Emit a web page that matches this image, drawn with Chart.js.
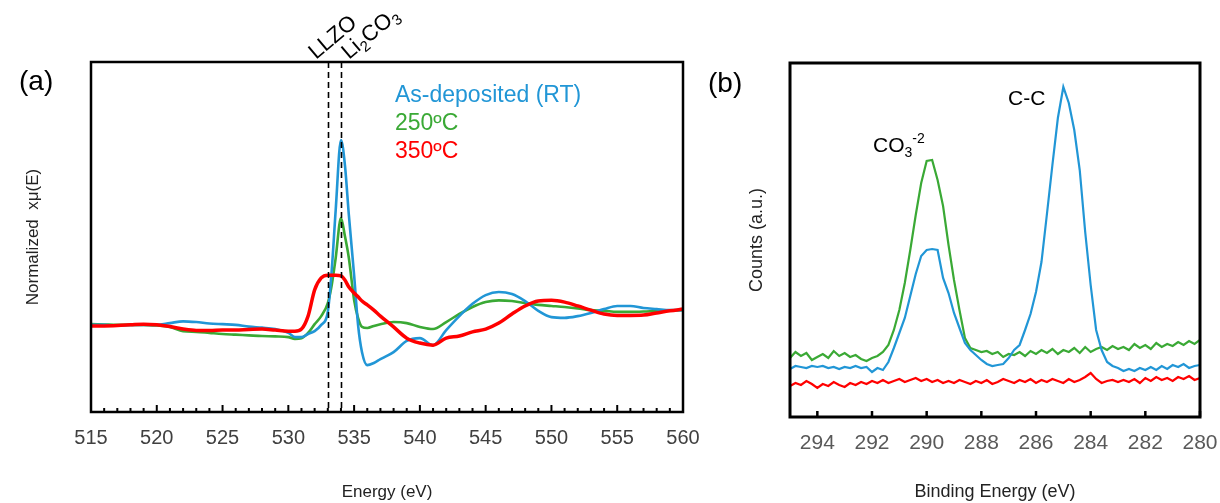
<!DOCTYPE html>
<html><head><meta charset="utf-8">
<script src="https://cdn.jsdelivr.net/npm/chart.js@4.4.1/dist/chart.umd.min.js"></script>
<style>
html,body{margin:0;padding:0;background:#fff;width:1220px;height:503px;overflow:hidden;}
canvas{position:absolute;top:0;}
#ca{left:0;}
#cb{left:700px;}
</style></head><body>
<canvas id="ca" width="700" height="503"></canvas>
<canvas id="cb" width="520" height="503"></canvas>
<script>
// ---------- Panel (a): XANES O K-edge ----------
const xasEnergy = [515,516,517,518,519,520,521,522,523,524,525,526,527,528,529,530,
  530.5,531,531.5,532,532.5,533,
  533.3,533.6,534,534.3,534.6,535,
  535.3,535.6,536,536.5,537,
  538,539,540,541,542,543,544,545,546,547,548,549,550,551,552,553,554,555,556,557,558,559,560];
const xasRT = [24.9,24.9,24.7,24.9,24.9,24.9,25.4,25.9,25.7,25.3,25.1,24.9,24.4,24.1,23.7,22.6,
  21.4,21.4,22.3,23.1,24.9,28.6,
  40.6,57.7,77.7,70.6,56.3,39.1,
  24.9,17.1,13.4,14.0,15.1,
  17.1,20.3,21.1,19.1,23.4,27.4,30.9,33.4,34.3,33.7,31.7,28.9,27.1,26.9,27.4,28.3,29.4,30.3,30.3,29.7,29.4,29.1,29.1];
const xas250 = [25.1,25.0,24.9,24.9,24.9,24.7,24.3,23.1,22.9,22.6,22.3,22.1,21.9,21.7,21.6,21.4,
  20.9,21.1,22.6,25.1,27.4,31.1,
  36.3,44.0,55.4,50.3,44.0,32.0,
  26.9,24.3,24.0,24.6,25.1,
  25.7,25.4,24.3,23.7,25.7,28.0,30.0,31.4,31.9,31.7,31.1,30.6,30.3,30.0,29.6,29.1,28.9,28.6,28.6,28.7,28.9,29.0,29.1];
const xas350 = [24.6,24.6,24.7,24.9,25.1,24.9,24.4,23.7,23.3,23.3,23.4,23.4,23.6,23.7,23.4,23.1,
  23.1,23.7,27.4,34.9,38.3,39.1,
  39.1,39.1,38.9,37.7,35.7,34.0,
  32.9,31.7,30.6,29.1,27.4,
  24.3,21.1,19.7,19.1,21.1,21.7,22.9,23.7,25.4,28.0,30.3,31.7,31.9,31.4,30.3,29.1,28.0,27.6,27.6,27.7,28.3,28.9,29.4];
const xasTicks = [515,520,525,530,535,540,545,550,555,560];
const refEnergies = [533, 534];
const xasLegend = ['As-deposited (RT)', '250\u00baC', '350\u00baC'];

// ---------- Panel (b): XPS C 1s ----------
const xpsEnergy = [295.0,294.8,294.6,294.4,294.2,294.0,293.8,293.6,293.4,293.2,
  293.0,292.8,292.6,292.4,292.2,292.0,291.8,291.6,291.4,291.2,
  291.0,290.8,290.6,290.4,290.2,290.0,289.8,289.6,289.4,289.2,
  289.0,288.8,288.6,288.4,288.2,288.0,287.8,287.6,287.4,287.2,
  287.0,286.8,286.6,286.4,286.2,286.0,285.8,285.6,285.4,285.2,
  285.0,284.8,284.6,284.4,284.2,284.0,283.8,283.6,283.4,283.2,
  283.0,282.8,282.6,282.4,282.2,282.0,281.8,281.6,281.4,281.2,
  281.0,280.8,280.6,280.4,280.2,280.0];
const xpsRT = [48,51,50,49,51,50,51,49,50,48,
  50,49,51,49,50,45,49,47,55,69,
  84,99,121,143,161,167,168,167,139,124,
  104,89,74,67,62,57,53,51,52,53,
  59,67,72,87,103,125,155,203,252,299,
  330,314,287,247,185,132,87,67,55,51,
  49,46,48,46,49,47,50,47,51,48,
  52,50,53,49,51,52];
const xps250 = [59,65,61,64,57,60,63,59,66,61,
  64,60,62,58,56,59,61,65,72,87,
  107,134,167,202,234,256,257,237,211,172,
  137,107,79,69,67,65,66,63,65,60,
  63,62,65,61,66,63,67,64,68,63,
  67,65,69,64,70,65,68,70,67,71,
  68,70,67,73,69,72,68,74,70,73,
  71,75,72,76,73,77];
const xps350 = [31,34,32,36,33,29,33,31,35,32,
  30,34,32,35,33,36,34,37,34,36,
  38,35,37,39,36,38,35,37,34,36,
  34,37,35,33,36,34,37,33,35,38,
  36,34,37,35,38,34,37,35,38,36,
  34,38,35,37,40,44,38,34,36,37,
  35,37,35,38,34,39,36,40,37,39,
  36,40,38,41,37,39];
const xpsTicks = [294,292,290,288,286,284,282,280];

const BLUE = '#2196d6', GREEN = '#3aa935', RED = '#ff0000';
const FONT = "'Liberation Sans', Arial, sans-serif";

function pts(xs, ys){ return xs.map((x,i)=>({x:x, y:ys[i]})); }

function drawRich(ctx, parts, x, y, angle){
  ctx.save();
  ctx.translate(x, y);
  ctx.rotate(angle);
  ctx.textBaseline = 'alphabetic';
  ctx.textAlign = 'left';
  let cx = 0;
  for (const p of parts){
    ctx.font = p.size + 'px ' + FONT;
    ctx.fillText(p.t, cx, p.dy || 0);
    cx += ctx.measureText(p.t).width;
  }
  ctx.restore();
}

const panelA = {
  id: 'panelA',
  afterDatasetsDraw(chart){
    const {ctx, chartArea:a, scales:{x}} = chart;
    ctx.save();
    ctx.strokeStyle = '#000';
    ctx.lineWidth = 1.6;
    ctx.setLineDash([6,4]);
    for (const e of refEnergies){
      const px = Math.round(x.getPixelForValue(e)) + 0.5;
      ctx.beginPath(); ctx.moveTo(px, a.top); ctx.lineTo(px, a.bottom); ctx.stroke();
    }
    ctx.restore();
  },
  afterDraw(chart){
    const {ctx, chartArea:a, scales:{x}} = chart;
    ctx.save();
    ctx.strokeStyle = '#000';
    ctx.lineWidth = 2.5;
    ctx.strokeRect(a.left, a.top, a.right - a.left, a.bottom - a.top);
    ctx.lineWidth = 2;
    for (let v = xasTicks[0]; v <= xasTicks[xasTicks.length-1]; v += 1){
      const px = x.getPixelForValue(v);
      const len = (v % 5 === 0) ? 7 : 4;
      ctx.beginPath(); ctx.moveTo(px, a.bottom); ctx.lineTo(px, a.bottom - len); ctx.stroke();
    }
    ctx.fillStyle = '#000';
    ctx.font = '28px ' + FONT;
    ctx.textBaseline = 'middle';
    ctx.fillText('(a)', 19, 82);
    ctx.font = '23px ' + FONT;
    const cols = [BLUE, GREEN, RED];
    const ys = [96, 124, 152];
    xasLegend.forEach((t,i)=>{ ctx.fillStyle = cols[i]; ctx.fillText(t, 395, ys[i]); });
    ctx.fillStyle = '#000';
    const ang = -40 * Math.PI / 180;
    drawRich(ctx, [{t:'LLZO', size:22}], 316, 60, ang);
    drawRich(ctx, [{t:'Li', size:22}, {t:'2', size:15, dy:5}, {t:'CO', size:22}, {t:'3', size:15, dy:5}], 349, 60, ang);
    ctx.restore();
  }
};

const panelB = {
  id: 'panelB',
  afterDraw(chart){
    const {ctx, chartArea:a, scales:{x}} = chart;
    ctx.save();
    ctx.strokeStyle = '#000';
    ctx.lineWidth = 3;
    ctx.strokeRect(a.left, a.top, a.right - a.left, a.bottom - a.top);
    ctx.lineWidth = 2.5;
    for (const v of xpsTicks){
      const px = x.getPixelForValue(v);
      ctx.beginPath(); ctx.moveTo(px, a.bottom); ctx.lineTo(px, a.bottom - 6); ctx.stroke();
    }
    ctx.fillStyle = '#000';
    ctx.font = '28px ' + FONT;
    ctx.textBaseline = 'middle';
    ctx.fillText('(b)', 8, 84);
    drawRich(ctx, [{t:'CO', size:21}, {t:'3', size:14, dy:5}, {t:'-2', size:14, dy:-9}], 173, 152, 0);
    drawRich(ctx, [{t:'C-C', size:21}], 308, 105, 0);
    ctx.restore();
  }
};

Chart.defaults.font.family = FONT;
Chart.defaults.devicePixelRatio = 1;

function noSidePad(s){ s.paddingLeft = 0; s.paddingRight = 0; }

new Chart(document.getElementById('ca'), {
  type: 'line',
  data: { datasets: [
    {label:'350ºC', data: pts(xasEnergy, xas350), borderColor: RED, borderWidth: 3.5},
    {label:'As-deposited (RT)', data: pts(xasEnergy, xasRT), borderColor: BLUE, borderWidth: 2.6},
    {label:'250ºC', data: pts(xasEnergy, xas250), borderColor: GREEN, borderWidth: 2.6}
  ]},
  options: {
    responsive: false, animation: false,
    layout: { padding: {left:0, top:62, right:17, bottom:0} },
    elements: { point: {radius: 0}, line: {cubicInterpolationMode: 'monotone'} },
    plugins: { legend: {display:false}, tooltip: {enabled:false} },
    scales: {
      x: {
        type: 'linear', min: 515, max: 560,
        afterFit(s){ s.height = 91; noSidePad(s); },
        afterBuildTicks(s){ s.ticks = xasTicks.map(v=>({value:v})); },
        grid: {display:false, drawTicks:false}, border: {display:false},
        ticks: {padding: 14, color:'#404040', font:{size:20}, maxRotation:0, autoSkip:false, callback: v => String(v)},
        title: {display:true, text:'Energy (eV)', color:'#222', font:{size:17}, padding:{top:0, bottom:0}}
      },
      y: {
        type: 'linear', min: 0, max: 100,
        afterFit(s){ s.width = 91; },
        grid: {display:false}, border: {display:false},
        ticks: {display:false},
        title: {display:true, text:'Normalized  x\u03bc(E)', color:'#222', font:{size:17}, padding:{top:23, bottom:0}}
      }
    }
  },
  plugins: [panelA]
});

new Chart(document.getElementById('cb'), {
  type: 'line',
  data: { datasets: [
    {label:'350ºC', data: pts(xpsEnergy, xps350), borderColor: RED, borderWidth: 2.2},
    {label:'As-deposited (RT)', data: pts(xpsEnergy, xpsRT), borderColor: BLUE, borderWidth: 2.2},
    {label:'250ºC', data: pts(xpsEnergy, xps250), borderColor: GREEN, borderWidth: 2.2}
  ]},
  options: {
    responsive: false, animation: false,
    layout: { padding: {left:0, top:63, right:20, bottom:0} },
    elements: { point: {radius: 0}, line: {tension: 0} },
    plugins: { legend: {display:false}, tooltip: {enabled:false} },
    scales: {
      x: {
        type: 'linear', min: 280, max: 295, reverse: true,
        afterFit(s){ s.height = 86; noSidePad(s); },
        afterBuildTicks(s){ s.ticks = xpsTicks.map(v=>({value:v})); },
        grid: {display:false, drawTicks:false}, border: {display:false},
        ticks: {padding: 14, color:'#595959', font:{size:21}, maxRotation:0, autoSkip:false, callback: v => String(v)},
        title: {display:true, text:'Binding Energy (eV)', color:'#222', font:{size:18}, padding:{top:0, bottom:0}}
      },
      y: {
        type: 'linear', min: 0, max: 354,
        afterFit(s){ s.width = 90; },
        grid: {display:false}, border: {display:false},
        ticks: {display:false},
        title: {display:true, text:'Counts (a.u.)', color:'#222', font:{size:18}, padding:{top:46, bottom:0}}
      }
    }
  },
  plugins: [panelB]
});
</script>
</body></html>
